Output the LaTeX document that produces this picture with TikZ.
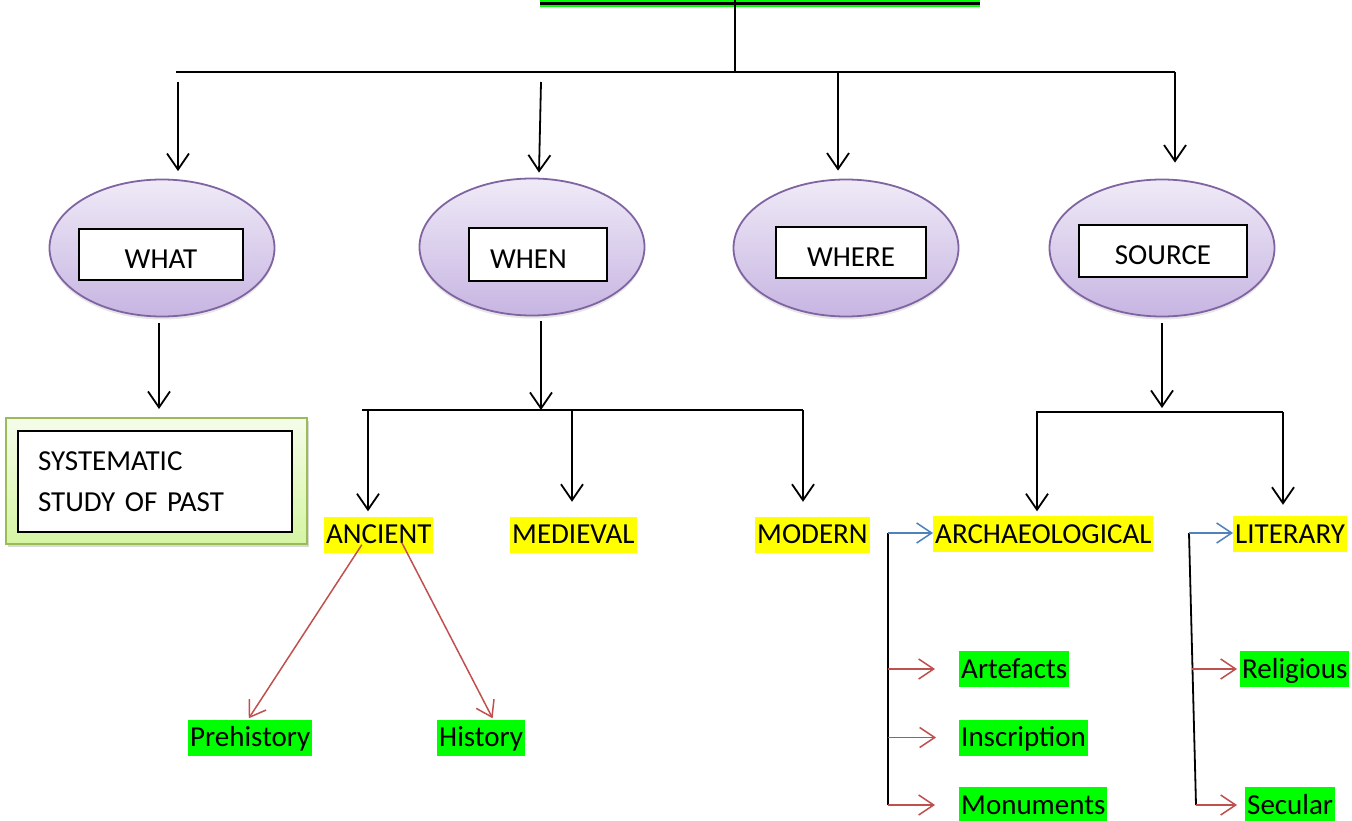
\documentclass[tikz,border=0pt]{standalone}
\usepackage{fontspec}
\setmainfont{Carlito}
\usetikzlibrary{shapes.geometric,arrows.meta,shadows,calc}
\definecolor{lavtop}{HTML}{EFEAF7}
\definecolor{lavbot}{HTML}{C7B5E2}
\definecolor{lavedge}{HTML}{8064A2}
\definecolor{grtop}{HTML}{F5FCEA}
\definecolor{grbot}{HTML}{D5F5A3}
\definecolor{gredge}{HTML}{9BBB59}
\definecolor{hlyellow}{HTML}{FFFF00}
\definecolor{hlgreen}{HTML}{00FF00}
\definecolor{redarr}{HTML}{C0504D}
\definecolor{bluearr}{HTML}{4F81BD}
\begin{document}
\begin{tikzpicture}[x=1pt,y=-1pt,
  font=\fontsize{29}{41}\selectfont,
  conn/.style={line width=1.8pt, black},
  arr/.style={conn, -{Straight Barb[length=16pt,width=22pt]}},
  rarr/.style={line width=1.5pt, redarr, -{Straight Barb[length=15pt,width=20pt]}},
  barr/.style={line width=1.5pt, bluearr, -{Straight Barb[length=15pt,width=20pt]}},
  titlebar/.style={fill=hlgreen, minimum width=440pt, minimum height=47pt, inner sep=0pt},
  qell/.style={ellipse, draw=lavedge, line width=1.8pt, top color=lavtop, bottom color=lavbot,
    minimum width=225pt, minimum height=137pt, inner sep=0pt,
    drop shadow={opacity=0.2, shadow xshift=0pt, shadow yshift=-3pt}},
  qbox/.style={draw=black, line width=1.2pt, fill=white, inner sep=0pt, text height=30pt, text depth=3pt},
  sysouter/.style={draw=gredge, line width=2pt, top color=grtop, bottom color=grbot,
    minimum width=301pt, minimum height=126pt, inner sep=0pt,
    drop shadow={opacity=0.3, shadow xshift=2pt, shadow yshift=-3pt}},
  hly/.style={fill=hlyellow, anchor=west, inner xsep=2pt, inner ysep=4pt, text height=23pt, text depth=5pt},
  hlg/.style={hly, fill=hlgreen}
]
\useasboundingbox (0,0) rectangle (1352,821);
\clip (0,0) rectangle (1352,821);

% title
\node[titlebar] (title) at (760,-16) {};
\draw[line width=3pt] ([yshift=4pt]title.south west) -- ([yshift=4pt]title.south east);

\coordinate (hm) at (735,72);
\coordinate (hl) at (176,72);
\coordinate (hr) at (1175,72);
\draw[conn] (hm |- title.center) -- (hm);
\draw[conn] (hl) -- (hr);

% question ellipses
\node[qell] (what) at (162,248) {};
\node[qell] (when) at (532,247) {};
\node[qell] (where) at (846,248) {};
\node[qell] (source) at (1162,248) {};
\node[qbox, minimum width=164pt, minimum height=51pt] (whatbox) at (161,254.5) {WHAT};
\node[qbox, minimum width=138pt, minimum height=53pt, text width=96pt, inner xsep=21pt, align=left] (whenbox) at (538,254.5) {WHEN};
\node[qbox, minimum width=150pt, minimum height=51pt] (wherebox) at (851,252.5) {WHERE};
\node[qbox, minimum width=168pt, minimum height=52pt] (sourcebox) at (1163,251) {SOURCE};

\draw[arr] (hl) ++(2,10) -- ([shift={(16,-7.5)}]what.north);
\draw[arr] (hl) ++(365,10) -- ([shift={(7,-5)}]when.north);
\draw[arr] (hl) ++(662,0) -- ([shift={(-8,-8)}]where.north);
\draw[arr] (hr) -- ([shift={(13,-16)}]source.north);

% what branch
\node[sysouter] (sys) at (156.5,481) {};
\node[draw=black, line width=1.2pt, fill=white, minimum width=274pt, minimum height=101pt,
  text width=234pt, inner xsep=20pt, inner ysep=0pt, align=left] (systext) at (155,481.5)
  {SYSTEMATIC\\STUDY OF PAST};
\draw[arr] ([shift={(-3,6)}]what.south) -- ([shift={(2.5,-8)}]sys.north);

% when branch
\node[hly] (ancient) at (324,534.5) {ANCIENT};
\node[hly] (medieval) at (510,534.5) {MEDIEVAL};
\node[hly] (modern) at (755,534.5) {MODERN};
\node[hlg] (prehistory) at (188,737.5) {Prehistory};
\node[hlg] (history) at (437,737.5) {History};

\coordinate (wl) at (362,410);
\coordinate (wr) at (803,410);
\coordinate (wm) at (541,410);
\coordinate (a1) at (368,410);
\coordinate (m1) at (572,410);
\draw[arr] ([shift={(9,5)}]when.south) -- (wm);
\draw[conn] (wl) -- (wr);
\draw[arr, shorten >=5pt] (a1) -- (a1 |- ancient.north);
\draw[arr, shorten >=14.5pt] (m1) -- (m1 |- medieval.north);
\draw[arr, shorten >=14.5pt] (wr) -- (wr |- modern.north);
\draw[rarr] ([shift={(-17,-8)}]ancient.south) -- ([shift={(-1.5,-1)}]prehistory.north);
\draw[rarr] ([shift={(23,-10)}]ancient.south) -- ([shift={(11.5,-1)}]history.north);

% source branch
\node[hly] (archaeological) at (933,534) {ARCHAEOLOGICAL};
\node[hly] (literary) at (1233,534) {LITERARY};
\node[hlg] (artefacts) at (959,669) {Artefacts};
\node[hlg] (inscription) at (959,737.5) {Inscription};
\node[hlg] (monuments) at (959,805) {Monuments};
\node[hlg] (religious) at (1240,669) {Religious};
\node[hlg] (secular) at (1245,805) {Secular};

\coordinate (sm) at (1162,408);
\coordinate (sl) at (1036,412);
\coordinate (sr) at (1283,412);
\coordinate (s1) at (1037,412);
\draw[arr] ([yshift=-6pt]source.south) -- (sm);
\draw[conn] (sl) -- (sr);
\draw[arr, shorten >=4.5pt] (s1) -- (s1 |- archaeological.north);
\draw[arr, shorten >=11pt] (sr) -- (sr |- literary.north);

\coordinate (av1) at (888,533);
\coordinate (av2) at (888,805);
\draw[conn] (av1) -- (av2);
\draw[barr] (av1) -- (av1 -| archaeological.west);
\draw[rarr] (av1 |- artefacts.west) -- ([xshift=-24pt]artefacts.west);
\draw[rarr] (av1 |- inscription.west) -- ([xshift=-23pt]inscription.west);
\draw[rarr] (av1 |- monuments.west) -- ([xshift=-24pt]monuments.west);

\coordinate (lv1) at (1189,533);
\coordinate (lv2) at (1196,805);
\coordinate (lv3) at (1192,669);
\draw[conn] (lv1) -- (lv2);
\draw[barr] (lv1) -- (lv1 -| literary.west);
\draw[rarr] (lv3) -- ([xshift=-3pt]religious.west);
\draw[rarr, shorten >=8pt] (lv2) -- (lv2 -| secular.west);
\end{tikzpicture}
\end{document}
